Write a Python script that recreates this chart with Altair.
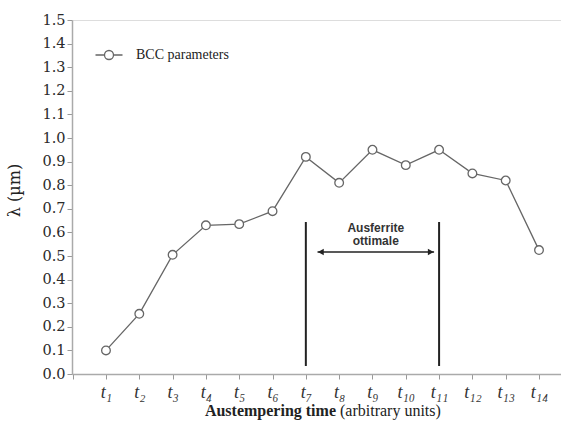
import altair as alt
import pandas as pd

# ---- data ----
t_index = list(range(1, 15))
t_labels = ["t\u2081", "t\u2082", "t\u2083", "t\u2084", "t\u2085", "t\u2086", "t\u2087",
            "t\u2088", "t\u2089", "t\u2081\u2080", "t\u2081\u2081", "t\u2081\u2082",
            "t\u2081\u2083", "t\u2081\u2084"]
lam = [0.10, 0.255, 0.505, 0.63, 0.635, 0.69, 0.92, 0.81, 0.95, 0.885, 0.95, 0.85, 0.82, 0.525]
series = ["BCC parameters"] * 14

bounds_x = [7, 11]
bounds_y0 = [0.034, 0.034]
bounds_y1 = [0.644, 0.644]
arrow_x0 = [7.35]
arrow_x1 = [10.85]
arrow_y = [0.517]
head_x = [7.45, 10.75]
head_shape = ["triangle-left", "triangle-right"]
note_lines = ["Ausferrite", "ottimale"]
note_x = [9.1, 9.1]
note_y = [0.619, 0.562]

df = pd.DataFrame({"t": t_index, "lam": lam, "series": series})
bdf = pd.DataFrame({"x": bounds_x, "y0": bounds_y0, "y1": bounds_y1})
adf = pd.DataFrame({"x0": arrow_x0, "x1": arrow_x1, "y": arrow_y})
hdf = pd.DataFrame({"x": head_x, "y": arrow_y * 2, "shape": head_shape})
ndf = pd.DataFrame({"x": note_x, "y": note_y, "text": note_lines})

label_expr = "datum.value < 1 ? '' : " + str(t_labels) + "[round(datum.value) - 1]"

xscale = alt.Scale(domain=[-0.02, 14.66], nice=False, zero=False)
yscale = alt.Scale(domain=[0, 1.5], nice=False)

xaxis = alt.Axis(values=list(range(0, 15)), labelExpr=label_expr, title=None,
                 grid=False, labelFont="Liberation Serif", labelFontStyle="italic",
                 labelFontSize=18, labelColor="#333", labelPadding=4,
                 labelOverlap=False, labelFlush=False,
                 tickColor="#999", tickSize=5, domainColor="#aaa", domainWidth=1.5)
yaxis = alt.Axis(values=[i / 10 for i in range(16)], format=".1f", grid=False,
                 title="\u03bb (\u00b5m)", titleFont="DejaVu Serif", titleFontSize=16,
                 titleFontWeight="normal", titleColor="#222", titleX=-50, titleY=170,
                 titleAngle=270, titleAlign="center",
                 labelFont="DejaVu Serif", labelFontSize=14.5, labelColor="#2a2a2a",
                 labelOverlap=False, labelFlush=False,
                 labelPadding=2, tickColor="#999", tickSize=5,
                 domainColor="#aaa", domainWidth=1.5)


def X(f):
    return alt.X(f, type="quantitative", scale=xscale, axis=xaxis)


def Y(f):
    return alt.Y(f, type="quantitative", scale=yscale, axis=yaxis)


line = alt.Chart(df).mark_line(color="#666", strokeWidth=1.3).encode(
    x=X("t"), y=Y("lam"),
)

legend = alt.Legend(
    title=None, orient="none", legendX=30, legendY=28,
    symbolType="M-3,0H-1M1,0H3M-1,0A1,1,0,1,0,1,0A1,1,0,1,0,-1,0Z",
    symbolSize=81, symbolStrokeWidth=1.3, symbolFillColor="white",
    labelFont="Liberation Serif", labelFontSize=14, labelColor="#222",
    labelOffset=20,
)

points = alt.Chart(df).mark_point(filled=True, fill="white", fillOpacity=1, size=75,
                                  strokeWidth=1.3, opacity=1, shape="circle").encode(
    x=X("t"), y=Y("lam"),
    stroke=alt.Stroke("series:N", scale=alt.Scale(range=["#666"]), legend=legend),
)

bounds = alt.Chart(bdf).mark_rule(color="#222", strokeWidth=2).encode(
    x=X("x"), y=Y("y0"), y2="y1:Q"
)
arrow = alt.Chart(adf).mark_rule(color="#222", strokeWidth=1.5).encode(
    x=X("x0"), x2="x1:Q", y=Y("y")
)
heads = alt.Chart(hdf).mark_point(filled=True, color="#222", size=45, opacity=1).encode(
    x=X("x"), y=Y("y"),
    shape=alt.Shape("shape:N", scale=None, legend=None),
)
notes = alt.Chart(ndf).mark_text(font="Liberation Sans", fontWeight="bold",
                                 fontSize=12, color="#333").encode(
    x=X("x"), y=Y("y"), text="text:N"
)

title_bold = alt.Chart(pd.DataFrame({"a": [0]})).mark_text(
    text="Austempering time", font="Liberation Serif", fontWeight="bold",
    fontSize=16, align="right", baseline="alphabetic", color="#222"
).encode(x=alt.value(264), y=alt.value(396))
title_norm = alt.Chart(pd.DataFrame({"a": [0]})).mark_text(
    text="(arbitrary units)", font="Liberation Serif", fontWeight="normal",
    fontSize=16, align="left", baseline="alphabetic", color="#222"
).encode(x=alt.value(268), y=alt.value(396))

chart = alt.layer(line, points, bounds, arrow, heads, notes, title_bold, title_norm).properties(
    width=489, height=354,
    padding={"left": 72, "top": 20, "right": 0, "bottom": 47},
    autosize=alt.AutoSizeParams(type="none"),
).configure_view(stroke="#aaa", strokeWidth=1.5).configure(background="white")

chart.save("out.html", embed_options={"renderer": "svg", "actions": False})
